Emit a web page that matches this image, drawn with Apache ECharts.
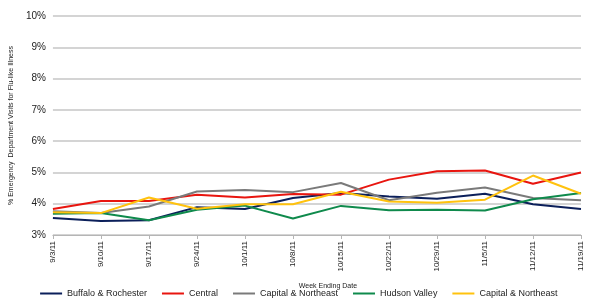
<!DOCTYPE html>
<html>
<head>
<meta charset="utf-8">
<script src="https://cdn.jsdelivr.net/npm/echarts@6/dist/echarts.min.js"></script>
<style>
  html, body { margin: 0; padding: 0; background: #fff; }
  #main { width: 600px; height: 300px; }
</style>
</head>
<body>
<div id="main"></div>
<script>
// week ending dates
const weeks = ['9/3/11', '9/10/11', '9/17/11', '9/24/11', '10/1/11', '10/8/11',
  '10/15/11', '10/22/11', '10/29/11', '11/5/11', '11/12/11', '11/19/11'];

// % ED visits for ILI
const buffaloRochester = [3.54, 3.45, 3.47, 3.89, 3.83, 4.18, 4.34, 4.23, 4.16, 4.32, 3.98, 3.83];
const central = [3.83, 4.09, 4.09, 4.29, 4.20, 4.31, 4.29, 4.77, 5.04, 5.06, 4.64, 5.00];
const capitalNortheastGray = [3.76, 3.70, 3.91, 4.39, 4.44, 4.37, 4.66, 4.11, 4.35, 4.52, 4.18, 4.11];
const hudsonValley = [3.68, 3.70, 3.47, 3.81, 3.94, 3.53, 3.93, 3.79, 3.81, 3.78, 4.14, 4.34];
const capitalNortheastYellow = [3.73, 3.70, 4.20, 3.84, 3.98, 3.98, 4.38, 4.07, 4.03, 4.13, 4.90, 4.32];

const yTicks = [3, 4, 5, 6, 7, 8, 9, 10];

const chart = echarts.init(document.getElementById('main'));

function line(name, data, color) {
  return {
    name: name,
    type: 'line',
    data: data,
    symbol: 'none',
    lineStyle: { color: color, width: 2 },
    itemStyle: { color: color },
    emphasis: { disabled: true }
  };
}

chart.setOption({
  animation: false,
  textStyle: { fontFamily: 'Liberation Sans, Arial, sans-serif' },
  grid: { left: 46, right: 19, top: 16, bottom: 65 },
  legend: {
    bottom: -3,
    left: 'center',
    icon: 'rect',
    itemWidth: 22,
    itemHeight: 2,
    itemGap: 15,
    textStyle: { fontSize: 9, color: '#222' },
    data: ['Buffalo & Rochester', 'Central', 'Capital & Northeast', 'Hudson Valley', 'Capital & Northeast ']
  },
  xAxis: {
    type: 'category',
    data: weeks,
    boundaryGap: false,
    name: 'Week Ending Date',
    nameLocation: 'middle',
    nameGap: 48,
    nameTextStyle: { fontSize: 7, color: '#222', padding: [0, 0, 0, 22] },
    axisLine: { lineStyle: { color: '#b5b5b5', width: 1 } },
    axisTick: { show: true, length: 4, lineStyle: { color: '#b5b5b5' } },
    axisLabel: { rotate: 90, fontSize: 8, color: '#222', margin: 6 }
  },
  yAxis: {
    type: 'value',
    min: yTicks[0],
    max: yTicks[yTicks.length - 1],
    interval: 1,
    name: '% Emergency  Department Visits for Flu-like Illness',
    nameLocation: 'middle',
    nameGap: 31,
    nameRotate: 90,
    nameTextStyle: { fontSize: 7, color: '#222' },
    axisLine: { show: false },
    axisTick: { show: false },
    axisLabel: { formatter: '{value}%', fontSize: 10, color: '#222', margin: 7 },
    splitLine: { lineStyle: { color: '#c6c6c6', width: 1.5 } }
  },
  series: [
    line('Buffalo & Rochester', buffaloRochester, '#0b1f5a'),
    line('Central', central, '#e8150f'),
    line('Capital & Northeast', capitalNortheastGray, '#7a7a7a'),
    line('Hudson Valley', hudsonValley, '#0f8a4c'),
    line('Capital & Northeast ', capitalNortheastYellow, '#ffc20e')
  ]
});
</script>
</body>
</html>
